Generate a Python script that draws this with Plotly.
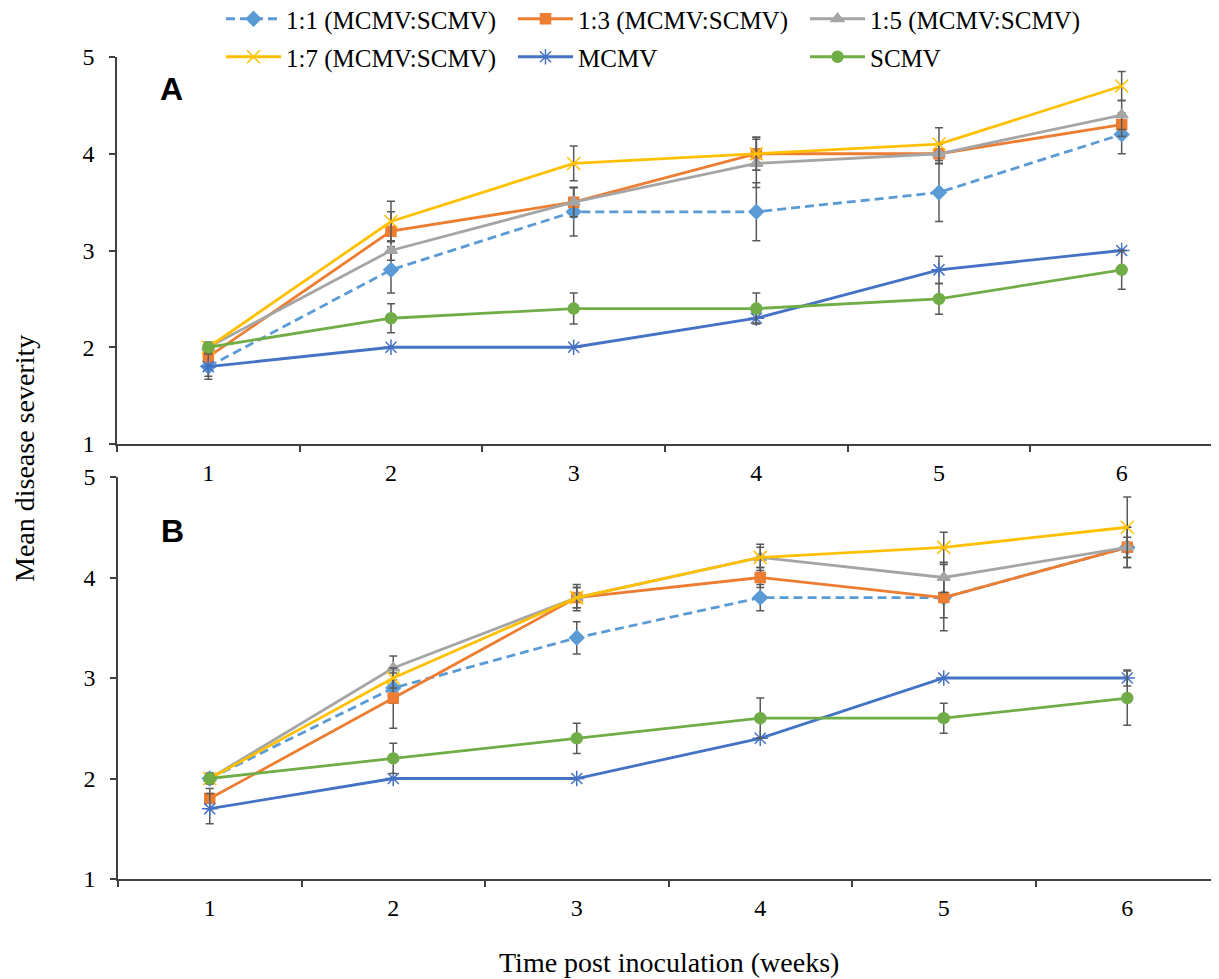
import plotly.graph_objects as go

weeks = ["1", "2", "3", "4", "5", "6"]
names = ["1:1 (MCMV:SCMV)", "1:3 (MCMV:SCMV)", "1:5 (MCMV:SCMV)",
         "1:7 (MCMV:SCMV)", "MCMV", "SCMV"]

# Panel A means
a_11 = [1.8, 2.8, 3.4, 3.4, 3.6, 4.2]
a_13 = [1.9, 3.2, 3.5, 4.0, 4.0, 4.3]
a_15 = [2.0, 3.0, 3.5, 3.9, 4.0, 4.4]
a_17 = [2.0, 3.3, 3.9, 4.0, 4.1, 4.7]
a_mcmv = [1.8, 2.0, 2.0, 2.3, 2.8, 3.0]
a_scmv = [2.0, 2.3, 2.4, 2.4, 2.5, 2.8]
# Panel A error bars
a_11_err = [0.1, 0.24, 0.25, 0.3, 0.3, 0.2]
a_13_err = [0.1, 0.2, 0.15, 0.17, 0.1, 0.12]
a_15_err = [0.05, 0.1, 0.15, 0.25, 0.1, 0.15]
a_17_err = [0.05, 0.21, 0.18, 0.17, 0.17, 0.15]
a_mcmv_err = [0.13, 0.0, 0.0, 0.05, 0.14, 0.0]
a_scmv_err = [0.05, 0.15, 0.16, 0.16, 0.16, 0.2]

# Panel B means
b_11 = [2.0, 2.9, 3.4, 3.8, 3.8, 4.3]
b_13 = [1.8, 2.8, 3.8, 4.0, 3.8, 4.3]
b_15 = [2.0, 3.1, 3.8, 4.2, 4.0, 4.3]
b_17 = [2.0, 3.0, 3.8, 4.2, 4.3, 4.5]
b_mcmv = [1.7, 2.0, 2.0, 2.4, 3.0, 3.0]
b_scmv = [2.0, 2.2, 2.4, 2.6, 2.6, 2.8]
# Panel B error bars
b_11_err = [0.05, 0.15, 0.16, 0.13, 0.2, 0.2]
b_13_err = [0.1, 0.3, 0.1, 0.1, 0.33, 0.2]
b_15_err = [0.05, 0.12, 0.1, 0.1, 0.15, 0.1]
b_17_err = [0.05, 0.1, 0.13, 0.13, 0.15, 0.3]
b_mcmv_err = [0.15, 0.0, 0.0, 0.0, 0.0, 0.08]
b_scmv_err = [0.05, 0.15, 0.15, 0.2, 0.15, 0.27]

y_ticks = [1, 2, 3, 4, 5]

colors = ["#5B9BD5", "#ED7D31", "#A5A5A5", "#FFC000", "#4472C4", "#70AD47"]
symbols = ["diamond", "square", "triangle-up", "x-thin-open", "asterisk-open", "circle"]
msizes = [11, 10, 11, 13, 13, 11]
dashes = ["9px,5px", "solid", "solid", "solid", "solid", "solid"]
legend_rows = ["legend", "legend", "legend", "legend2", "legend2", "legend2"]

panel_a = [a_11, a_13, a_15, a_17, a_mcmv, a_scmv]
panel_a_err = [a_11_err, a_13_err, a_15_err, a_17_err, a_mcmv_err, a_scmv_err]
panel_b = [b_11, b_13, b_15, b_17, b_mcmv, b_scmv]
panel_b_err = [b_11_err, b_13_err, b_15_err, b_17_err, b_mcmv_err, b_scmv_err]

SERIF = "Liberation Serif, Times New Roman, serif"
SANS = "Liberation Sans, Arial, sans-serif"
OFF = 8                      # page body margin
W, H = 1219 - OFF, 979 - OFF


def px(x):
    return (x - OFF) / W


def py(y):
    return 1 - (y - OFF) / H


fig = go.Figure()

for panel, errs, xa, ya, show in [(panel_a, panel_a_err, "x", "y", True),
                                   (panel_b, panel_b_err, "x2", "y2", False)]:
    for i in range(6):
        fig.add_trace(go.Scatter(
            x=weeks, y=panel[i], xaxis=xa, yaxis=ya,
            name=names[i], legendgroup=names[i], showlegend=show,
            legend=legend_rows[i],
            mode="lines+markers",
            line=dict(color=colors[i], width=2.8, dash=dashes[i]),
            marker=dict(symbol=symbols[i], size=msizes[i], color=colors[i],
                        line=dict(color=colors[i], width=1.5)),
            error_y=dict(type="data", array=errs[i], visible=True,
                         color="#595959", thickness=1.5, width=4),
        ))

axis_common = dict(
    type="category", categoryorder="array", categoryarray=weeks,
    range=[-0.5, 5.5], autorange=False,
    showline=True, linecolor="#404040", linewidth=1.5,
    ticks="outside", tickson="boundaries", ticklen=6, tickcolor="#404040", tickwidth=1.5,
    showgrid=False, zeroline=False, automargin=False,
    tickfont=dict(family=SERIF, size=24, color="#000000"),
    ticklabelstandoff=6,
)
yaxis_common = dict(
    range=[1, 5], autorange=False, tickvals=y_ticks,
    showline=True, linecolor="#404040", linewidth=1.5,
    ticks="outside", ticklen=6, tickcolor="#404040", tickwidth=1.5,
    showgrid=False, zeroline=False, automargin=False,
    tickfont=dict(family=SERIF, size=24, color="#000000"),
    ticklabelstandoff=10,
)

legend_common = dict(
    orientation="h", x=px(221), xanchor="left", yanchor="top",
    font=dict(family=SERIF, size=25, color="#000000"),
    entrywidth=222, entrywidthmode="pixels",
    itemwidth=55, bgcolor="rgba(0,0,0,0)", tracegroupgap=0,
)

fig.update_layout(
    width=W, height=H,
    margin=dict(l=0, r=0, t=0, b=0, autoexpand=False),
    paper_bgcolor="white", plot_bgcolor="white",
    xaxis=dict(domain=[px(117), px(1213)], anchor="y", **axis_common),
    yaxis=dict(domain=[py(444), py(57)], anchor="x", **yaxis_common),
    xaxis2=dict(domain=[px(118), 1.0], anchor="y2", **axis_common),
    yaxis2=dict(domain=[py(879), py(477)], anchor="x2", **yaxis_common),
    legend=dict(y=py(-4), **legend_common),
    legend2=dict(y=py(34), **legend_common),
    showlegend=True,
)

fig.add_annotation(x=px(171), y=py(89), xref="paper", yref="paper",
                   xanchor="center", yanchor="middle",
                   text="<b>A</b>", showarrow=False,
                   font=dict(family=SANS, size=32, color="#000"))
fig.add_annotation(x=px(172), y=py(531), xref="paper", yref="paper",
                   xanchor="center", yanchor="middle",
                   text="<b>B</b>", showarrow=False,
                   font=dict(family=SANS, size=32, color="#000"))
fig.add_annotation(x=px(669), y=py(962), xref="paper", yref="paper",
                   xanchor="center", yanchor="middle",
                   text="Time post inoculation (weeks)", showarrow=False,
                   font=dict(family=SERIF, size=28, color="#000"))
fig.add_annotation(x=px(24), y=py(459), xref="paper", yref="paper",
                   xanchor="center", yanchor="middle",
                   text="Mean disease severity", showarrow=False, textangle=-90,
                   font=dict(family=SERIF, size=28, color="#000"))

fig.write_html("out.html")
